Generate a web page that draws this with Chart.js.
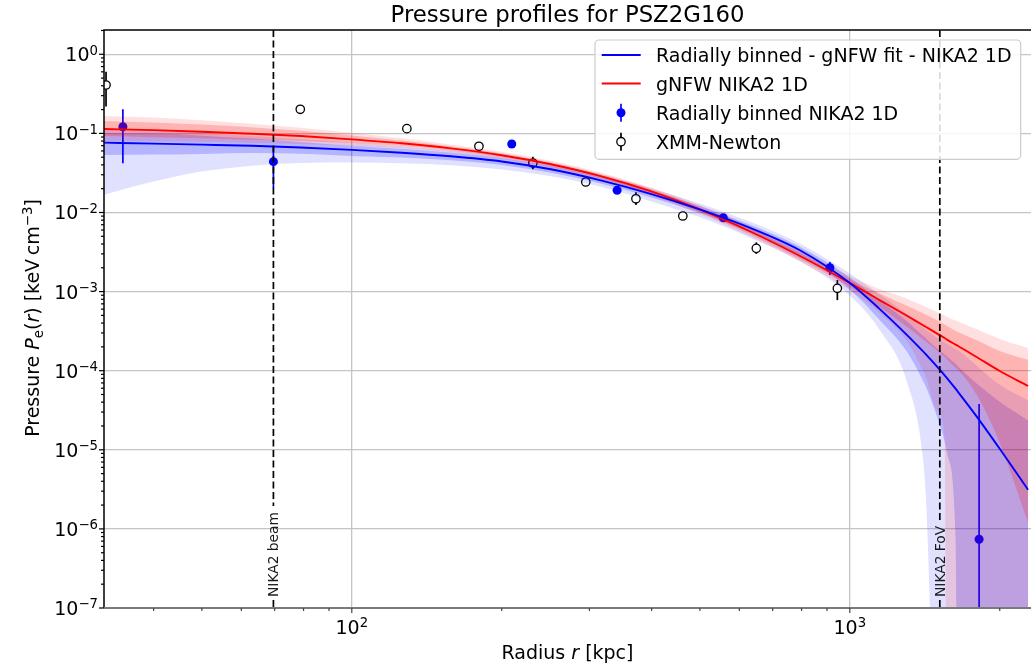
<!DOCTYPE html>
<html>
<head>
<meta charset="utf-8">
<title>Pressure profiles for PSZ2G160</title>
<script src="https://cdn.jsdelivr.net/npm/chart.js@4.4.1/dist/chart.umd.min.js"></script>
<style>
  body { margin: 0; background: #fff; }
  canvas { display: block; }
</style>
</head>
<body>
<canvas id="profileChart" width="1031" height="666"></canvas>
<script>
// --- DATA ---
const radiusGrid = [31.8, 40, 50, 63, 79, 100, 126, 158, 200, 251, 316, 398, 501, 631, 794, 1000, 1150, 1300, 1400, 1420, 1500, 1550, 1570, 1630, 1650, 1800, 2000, 2280];

// radially binned - gNFW fit (blue) and its 1 / 2 sigma envelopes
const binnedFit = [0.0764, 0.0743, 0.0721, 0.0697, 0.0662, 0.0618, 0.0570, 0.0514, 0.0442, 0.0352, 0.0255, 0.0172, 0.01086, 0.00638, 0.00333, 0.001285, 5.96e-4, 2.86e-4, 1.78e-4, 1.62e-4, 1.11e-4, 8.73e-5, 7.93e-5, 5.92e-5, 5.37e-5, 2.61e-5, 1.03e-5, 3.13e-6];
const binnedHi1 = [0.1013, 0.0994, 0.0937, 0.0859, 0.0779, 0.0698, 0.0640, 0.0574, 0.0489, 0.0386, 0.0278, 0.0189, 0.0120, 0.00698, 0.00369, 0.00151, 7.73e-4, 4.25e-4, 2.79e-4, 2.58e-4, 1.88e-4, 1.60e-4, 1.50e-4, 1.22e-4, 1.13e-4, 6.82e-5, 4.04e-5, 2.35e-5];
const binnedLo1 = [0.0534, 0.0539, 0.0550, 0.0565, 0.0553, 0.0519, 0.0496, 0.0457, 0.0398, 0.0319, 0.0233, 0.01564, 0.00984, 0.00560, 0.00288, 0.001065, 4.32e-4, 1.77e-4, 7.65e-5, 6.38e-5, 2.52e-5, 1.27e-5, 8.65e-6, 7.90e-7, 1e-9, 1e-9, 1e-9, 1e-9];
const binnedHi2 = [0.1106, 0.1085, 0.1008, 0.0924, 0.0843, 0.0767, 0.0689, 0.0612, 0.0526, 0.0412, 0.0296, 0.0203, 0.01294, 0.00762, 0.00402, 0.001697, 9.20e-4, 5.26e-4, 3.58e-4, 3.35e-4, 2.59e-4, 2.27e-4, 2.19e-4, 1.88e-4, 1.81e-4, 1.15e-4, 6.62e-5, 4.21e-5];
const binnedLo2 = [0.01681, 0.0246, 0.0329, 0.0389, 0.0422, 0.0428, 0.0420, 0.0396, 0.0350, 0.0287, 0.0211, 0.01392, 0.00873, 0.00481, 0.00242, 8.95e-4, 3.23e-4, 7.48e-5, 8.62e-6, 2.83e-6, 1e-9, 1e-9, 1e-9, 1e-9, 1e-9, 1e-9, 1e-9, 1e-9];

// gNFW NIKA2 1D (red) and its envelopes
const gnfwFit = [0.1138, 0.1099, 0.1050, 0.0991, 0.0927, 0.0841, 0.0750, 0.0647, 0.0530, 0.0407, 0.0288, 0.0186, 0.01084, 0.00575, 0.00282, 0.001288, 7.76e-4, 4.98e-4, 3.78e-4, 3.59e-4, 2.92e-4, 2.59e-4, 2.45e-4, 2.14e-4, 2.05e-4, 1.48e-4, 9.91e-5, 6.41e-5];
const gnfwHi1 = [0.1436, 0.1375, 0.1298, 0.1197, 0.1078, 0.0940, 0.0813, 0.0690, 0.0562, 0.0432, 0.0306, 0.0200, 0.01169, 0.00626, 0.00310, 0.001435, 9.38e-4, 6.67e-4, 5.36e-4, 5.15e-4, 4.30e-4, 3.83e-4, 3.65e-4, 3.21e-4, 3.09e-4, 2.42e-4, 1.77e-4, 1.37e-4];
const gnfwLo1 = [0.0928, 0.0896, 0.0866, 0.0830, 0.0801, 0.0755, 0.0691, 0.0607, 0.0500, 0.0384, 0.0271, 0.01731, 0.01002, 0.00527, 0.00256, 0.001153, 6.33e-4, 3.62e-4, 2.52e-4, 2.35e-4, 1.78e-4, 1.49e-4, 1.37e-4, 1.09e-4, 1.02e-4, 4.88e-5, 1.22e-5, 1.19e-6];
const gnfwHi2 = [0.1661, 0.1591, 0.1467, 0.1326, 0.1177, 0.1019, 0.0867, 0.0725, 0.0588, 0.0451, 0.0319, 0.0209, 0.01235, 0.00665, 0.00330, 0.001565, 0.001069, 8.18e-4, 6.67e-4, 6.42e-4, 5.47e-4, 4.98e-4, 4.79e-4, 4.30e-4, 4.17e-4, 3.33e-4, 2.52e-4, 1.94e-4];
const gnfwLo2 = [0.0802, 0.0798, 0.0784, 0.0758, 0.0734, 0.0692, 0.0648, 0.0578, 0.0477, 0.0368, 0.0260, 0.01657, 0.00948, 0.00497, 0.00241, 0.001041, 5.32e-4, 2.41e-4, 1.02e-4, 8.37e-5, 3.10e-5, 1.41e-5, 1e-9, 1e-9, 1e-9, 1e-9, 1e-9, 1e-9];

// radially binned NIKA2 1D points
const nikaR  = [34.7, 69.6, 209.5, 341, 557, 912, 1818];
const nikaP  = [0.1215, 0.0439, 0.0734, 0.0191, 0.00859, 0.0020, 7.4e-7];
const nikaLo = [0.0418, 0.0204, 0.068, 0.0180, 0.0081, 0.00162, 1e-9];
const nikaHi = [0.2017, 0.068, 0.079, 0.0203, 0.0091, 0.00236, 3.8e-5];

// XMM-Newton points
const xmmR  = [32.1, 78.8, 129, 180, 231, 295, 372, 462, 649, 944];
const xmmP  = [0.409, 0.2017, 0.1148, 0.0687, 0.0422, 0.0243, 0.0149, 0.00903, 0.00352, 0.0011];
const xmmLo = [0.218, 0.195, 0.111, 0.066, 0.0352, 0.0235, 0.0124, 0.0087, 0.0030, 7.8e-4];
const xmmHi = [0.603, 0.208, 0.118, 0.071, 0.0508, 0.0251, 0.018, 0.0094, 0.0042, 0.0014];

// vertical reference lines
const refLines = [
  { r: 69.6, label: 'NIKA2 beam' },
  { r: 1516, label: 'NIKA2 FoV' }
];

// axes
const xRange = [31.8, 2311];
const yRange = [1e-7, 2.028];
const xDecades = [2, 3];
const yDecades = [-7, -6, -5, -4, -3, -2, -1, 0];
const minorSteps = [2, 3, 4, 5, 6, 7, 8, 9];

const legendItems = [
  { kind: 'line', color: '#0000ff', text: 'Radially binned - gNFW fit - NIKA2 1D' },
  { kind: 'line', color: '#ff0000', text: 'gNFW NIKA2 1D' },
  { kind: 'dot', color: '#0000ff', text: 'Radially binned NIKA2 1D' },
  { kind: 'ring', color: '#000000', text: 'XMM-Newton' }
];

const FONT = '"DejaVu Sans", sans-serif';
const BLUE = '#0000ff', RED = '#ff0000';

// --- HELPERS ---
const toXY = (xs, ys) => xs.map((x, i) => ({ x: x, y: ys[i] }));
const isDecade = v => { const l = Math.log10(v); return Math.abs(l - Math.round(l)) < 1e-6; };

function edge(values, order) {
  return { data: toXY(radiusGrid, values), borderWidth: 0, borderColor: 'rgba(0,0,0,0)',
           pointRadius: 0, fill: false, order: order, cubicInterpolationMode: 'monotone' };
}
function band(values, lowerIndex, color, order) {
  return { data: toXY(radiusGrid, values), borderWidth: 0, borderColor: 'rgba(0,0,0,0)',
           backgroundColor: color, pointRadius: 0, fill: lowerIndex, order: order,
           cubicInterpolationMode: 'monotone' };
}

// draw text made of pieces [text, font, dy]
function drawRich(ctx, parts, x, y, align) {
  let w = 0;
  parts.forEach(p => { ctx.font = p[1]; w += ctx.measureText(p[0]).width; });
  let cx = align === 'right' ? x - w : align === 'left' ? x : x - w / 2;
  ctx.textAlign = 'left';
  ctx.textBaseline = 'alphabetic';
  parts.forEach(p => {
    ctx.font = p[1];
    ctx.fillText(p[0], cx, y + (p[2] || 0));
    cx += ctx.measureText(p[0]).width;
  });
}
const powLabel = e => [['10', '19px ' + FONT], [String(e).replace('-', '\u2212'), '13.3px ' + FONT, -6.6]];

// --- PLUGINS ---
const errorBars = {
  id: 'errorBars',
  beforeDatasetDraw(chart, args) {
    const ds = chart.data.datasets[args.index];
    if (!ds.errLo) return;
    const { ctx, chartArea: a } = chart;
    const xs = chart.scales.x, ys = chart.scales.y;
    ctx.save();
    ctx.beginPath();
    ctx.rect(a.left, a.top, a.right - a.left, a.bottom - a.top);
    ctx.clip();
    ctx.strokeStyle = ds.errColor;
    ctx.lineWidth = 1.7;
    ds.data.forEach((p, i) => {
      const px = xs.getPixelForValue(p.x);
      ctx.beginPath();
      ctx.moveTo(px, ys.getPixelForValue(ds.errLo[i]));
      ctx.lineTo(px, ys.getPixelForValue(ds.errHi[i]));
      ctx.stroke();
    });
    ctx.restore();
  }
};

const decorations = {
  id: 'decorations',
  afterDatasetsDraw(chart) {
    const { ctx, chartArea: a, scales: { x } } = chart;
    ctx.save();
    ctx.font = '13.8px ' + FONT;
    refLines.forEach(m => {
      const px = x.getPixelForValue(m.r);
      const w = ctx.measureText(m.label).width;
      const textEnd = a.bottom - 11;
      ctx.strokeStyle = '#000';
      ctx.lineWidth = 1.7;
      ctx.setLineDash([7, 3.5]);
      ctx.beginPath();
      ctx.moveTo(px, a.top);
      ctx.lineTo(px, textEnd - w - 6);
      ctx.moveTo(px, textEnd + 3);
      ctx.lineTo(px, a.bottom);
      ctx.stroke();
      ctx.setLineDash([]);
      ctx.save();
      ctx.translate(px, textEnd);
      ctx.rotate(-Math.PI / 2);
      ctx.fillStyle = '#1a1a1a';
      ctx.textAlign = 'left';
      ctx.textBaseline = 'alphabetic';
      ctx.fillText(m.label, 0, 5);
      ctx.restore();
    });
    ctx.restore();
  },
  afterDraw(chart) {
    const { ctx, chartArea: a, scales: { x, y } } = chart;
    ctx.save();

    // spines
    ctx.lineWidth = 1.5;
    ctx.strokeStyle = '#000';
    ctx.beginPath();
    ctx.moveTo(a.left, a.bottom); ctx.lineTo(a.left, a.top); ctx.lineTo(a.right, a.top);
    ctx.stroke();
    ctx.strokeStyle = '#7a7a7a';
    ctx.lineWidth = 2;
    ctx.beginPath(); ctx.moveTo(a.left, a.bottom); ctx.lineTo(a.right, a.bottom); ctx.stroke();

    // y ticks
    ctx.strokeStyle = '#000';
    ctx.lineWidth = 1.2;
    yDecades.forEach(e => {
      const v = Math.pow(10, e);
      const py = y.getPixelForValue(v);
      ctx.beginPath(); ctx.moveTo(a.left - 5, py); ctx.lineTo(a.left, py); ctx.stroke();
      ctx.fillStyle = '#000';
      drawRich(ctx, powLabel(e), a.left - 6, py + 7, 'right');
      minorSteps.forEach(m => {
        const mv = m * v;
        if (mv > yRange[1]) return;
        const my = y.getPixelForValue(mv);
        ctx.beginPath(); ctx.moveTo(a.left - 3, my); ctx.lineTo(a.left, my); ctx.stroke();
      });
    });

    // x ticks
    ctx.strokeStyle = '#444';
    xDecades.forEach(e => {
      const v = Math.pow(10, e);
      const px = x.getPixelForValue(v);
      ctx.beginPath(); ctx.moveTo(px, a.bottom); ctx.lineTo(px, a.bottom + 5); ctx.stroke();
      ctx.fillStyle = '#000';
      drawRich(ctx, powLabel(e), px, a.bottom + 25.5, 'center');
    });
    [1, 2, 3].forEach(e => minorSteps.forEach(m => {
      const mv = m * Math.pow(10, e);
      if (mv < xRange[0] || mv > xRange[1]) return;
      const px = x.getPixelForValue(mv);
      ctx.beginPath(); ctx.moveTo(px, a.bottom); ctx.lineTo(px, a.bottom + 3); ctx.stroke();
    }));

    // axis titles
    ctx.fillStyle = '#000';
    const cx = (a.left + a.right) / 2;
    drawRich(ctx, [['Radius ', '19px ' + FONT], ['r', 'italic 19px ' + FONT], [' [kpc]', '19px ' + FONT]], cx, 659, 'center');
    ctx.save();
    ctx.translate(38.5, (a.top + a.bottom) / 2 - 1);
    ctx.rotate(-Math.PI / 2);
    drawRich(ctx, [
      ['Pressure ', '19px ' + FONT],
      ['P', 'italic 19px ' + FONT],
      ['e', '13.3px ' + FONT, 4],
      ['(', '19px ' + FONT],
      ['r', 'italic 19px ' + FONT],
      [') [keV\u2009cm', '19px ' + FONT],
      ['\u22123', '13.3px ' + FONT, -7],
      [']', '19px ' + FONT]
    ], 0, 0, 'center');
    ctx.restore();

    // title
    ctx.font = '22.8px ' + FONT;
    ctx.textAlign = 'center';
    ctx.textBaseline = 'alphabetic';
    ctx.fillText('Pressure profiles for PSZ2G160', cx, 22);

    // legend
    const L = { left: 595, top: 40, right: 1020.7, bottom: 159.3, r: 4 };
    ctx.beginPath();
    ctx.moveTo(L.left + L.r, L.top);
    ctx.arcTo(L.right, L.top, L.right, L.bottom, L.r);
    ctx.arcTo(L.right, L.bottom, L.left, L.bottom, L.r);
    ctx.arcTo(L.left, L.bottom, L.left, L.top, L.r);
    ctx.arcTo(L.left, L.top, L.right, L.top, L.r);
    ctx.closePath();
    ctx.fillStyle = 'rgba(255,255,255,0.85)';
    ctx.fill();
    ctx.strokeStyle = '#cccccc';
    ctx.lineWidth = 1.2;
    ctx.stroke();
    const rows = [55, 83.5, 112.7, 141.7];
    legendItems.forEach((it, i) => {
      const ry = rows[i];
      ctx.strokeStyle = it.color;
      ctx.lineWidth = 1.8;
      if (it.kind === 'line') {
        ctx.beginPath(); ctx.moveTo(601.7, ry); ctx.lineTo(640.7, ry); ctx.stroke();
      } else {
        ctx.lineWidth = 1.7;
        ctx.beginPath(); ctx.moveTo(621, ry - 9); ctx.lineTo(621, ry + 9); ctx.stroke();
        ctx.beginPath(); ctx.arc(621, ry, it.kind === 'dot' ? 4.5 : 4.2, 0, Math.PI * 2);
        if (it.kind === 'dot') { ctx.fillStyle = it.color; ctx.fill(); }
        else { ctx.fillStyle = '#fff'; ctx.fill(); ctx.lineWidth = 1.3; ctx.stroke(); }
      }
      ctx.fillStyle = '#000';
      ctx.font = '19px ' + FONT;
      ctx.textAlign = 'left';
      ctx.textBaseline = 'alphabetic';
      ctx.fillText(it.text, 656, ry + 7);
    });

    ctx.restore();
  }
};

// --- CHART ---
const datasets = [
  { data: toXY(nikaR, nikaP), showLine: false, pointRadius: 4.5, pointBackgroundColor: BLUE,
    pointBorderColor: BLUE, pointBorderWidth: 0, errLo: nikaLo, errHi: nikaHi, errColor: BLUE, order: 20, clip: 0 },
  { data: toXY(xmmR, xmmP), showLine: false, pointRadius: 4.2, pointBackgroundColor: '#fff',
    pointBorderColor: '#000', pointBorderWidth: 1.3, errLo: xmmLo, errHi: xmmHi, errColor: '#000', order: 19, clip: 0 },
  edge(binnedLo2, 15),                                   // 2
  band(binnedHi2, 2, 'rgba(0,0,255,0.12)', 11),          // 3
  edge(binnedLo1, 15),                                   // 4
  band(binnedHi1, 4, 'rgba(0,0,255,0.20)', 10),          // 5
  edge(gnfwLo2, 15),                                     // 6
  band(gnfwHi2, 6, 'rgba(255,0,0,0.12)', 9),             // 7
  edge(gnfwLo1, 15),                                     // 8
  band(gnfwHi1, 8, 'rgba(255,0,0,0.20)', 8),             // 9
  { data: toXY(radiusGrid, gnfwFit), borderColor: RED, borderWidth: 1.9, pointRadius: 0,
    fill: false, order: 2, cubicInterpolationMode: 'monotone' },
  { data: toXY(radiusGrid, binnedFit), borderColor: BLUE, borderWidth: 1.9, pointRadius: 0,
    fill: false, order: 1, cubicInterpolationMode: 'monotone' }
];

const gridColor = c => (c.tick && isDecade(c.tick.value)) ? '#c4c4c4' : 'rgba(0,0,0,0)';

new Chart(document.getElementById('profileChart').getContext('2d'), {
  type: 'line',
  data: { datasets: datasets },
  options: {
    responsive: false,
    animation: false,
    events: [],
    layout: { autoPadding: false, padding: { top: 30, right: 0, left: 0, bottom: 0 } },
    scales: {
      x: {
        type: 'logarithmic', min: xRange[0], max: xRange[1],
        ticks: { display: false },
        grid: { color: gridColor, lineWidth: 1.3, drawTicks: false },
        border: { display: false },
        afterFit: s => { s.height = 58; }
      },
      y: {
        type: 'logarithmic', min: yRange[0], max: yRange[1],
        ticks: { display: false },
        grid: { color: gridColor, lineWidth: 1.3, drawTicks: false },
        border: { display: false },
        afterFit: s => { s.width = 104; }
      }
    },
    plugins: { legend: { display: false }, tooltip: { enabled: false }, title: { display: false } }
  },
  plugins: [errorBars, decorations]
});
</script>
</body>
</html>
